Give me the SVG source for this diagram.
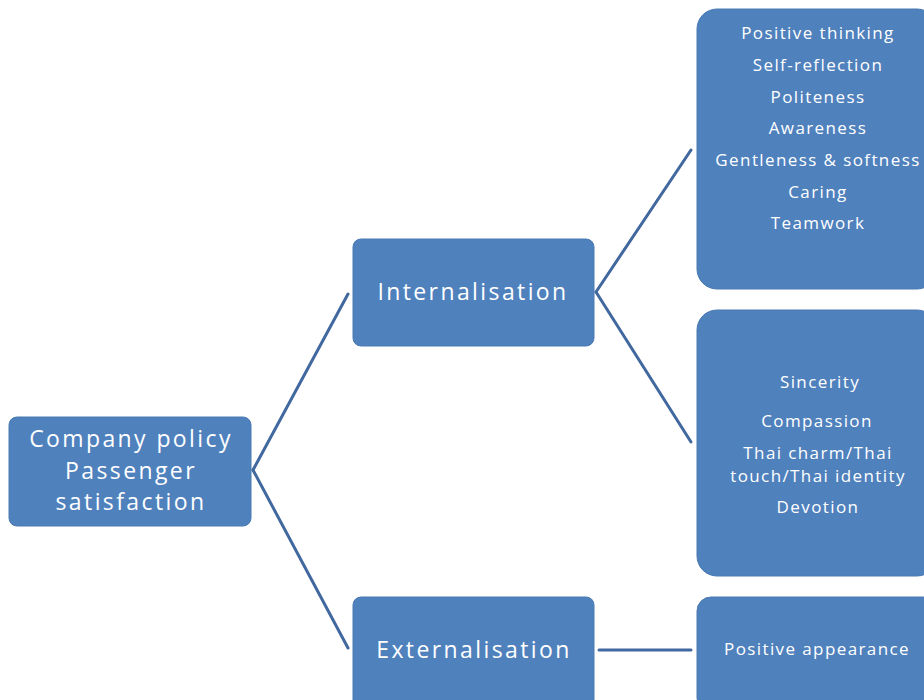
<svg xmlns="http://www.w3.org/2000/svg" width="924" height="700" viewBox="0 0 924 700">
<style>
.box{fill:#4f81bd;stroke:#4a7ab3;stroke-width:1}
.t{fill:#fff;font-family:"Open Sans","Noto Sans",sans-serif;text-anchor:middle}
.big{font-size:23px;letter-spacing:2.4px}
.sm{font-size:17px;letter-spacing:1.4px}
.c{stroke:#41689f;stroke-width:3;fill:none;stroke-linecap:round}
</style>
<rect width="924" height="700" fill="#fff"/>
<g id="connectors">
<line class="c" x1="253" y1="470" x2="348" y2="294"/>
<line class="c" x1="253" y1="470" x2="348" y2="648"/>
<line class="c" x1="596" y1="292" x2="691" y2="150"/>
<line class="c" x1="596" y1="292" x2="691" y2="442"/>
<line class="c" x1="599" y1="650" x2="691" y2="650"/>
</g>
<g id="root">
<rect class="box" x="9" y="417" width="242" height="109" rx="8"/>
<text class="t big" x="131" y="447">Company policy</text>
<text class="t big" x="131" y="479">Passenger</text>
<text class="t big" x="131" y="510">satisfaction</text>
</g>
<g id="internalisation">
<rect class="box" x="353" y="239" width="241" height="107" rx="8"/>
<text class="t big" x="473" y="300">Internalisation</text>
</g>
<g id="externalisation">
<rect class="box" x="353" y="597" width="241" height="115" rx="8"/>
<text class="t big" x="474" y="658">Externalisation</text>
</g>
<g id="values1">
<rect class="box" x="697" y="9" width="240" height="280" rx="20"/>
<text class="t sm" x="818" y="39">Positive thinking</text>
<text class="t sm" x="818" y="71">Self-reflection</text>
<text class="t sm" x="818" y="103">Politeness</text>
<text class="t sm" x="818" y="134">Awareness</text>
<text class="t sm" x="818" y="166">Gentleness &amp; softness</text>
<text class="t sm" x="818" y="198">Caring</text>
<text class="t sm" x="818" y="229">Teamwork</text>
</g>
<g id="values2">
<rect class="box" x="697" y="310" width="240" height="266" rx="20"/>
<text class="t sm" x="820" y="388">Sincerity</text>
<text class="t sm" x="817" y="427">Compassion</text>
<text class="t sm" x="818" y="459">Thai charm/Thai</text>
<text class="t sm" x="818" y="482">touch/Thai identity</text>
<text class="t sm" x="818" y="513">Devotion</text>
</g>
<g id="appearance">
<rect class="box" x="697" y="597" width="240" height="115" rx="14"/>
<text class="t sm" x="817" y="655">Positive appearance</text>
</g>
</svg>
